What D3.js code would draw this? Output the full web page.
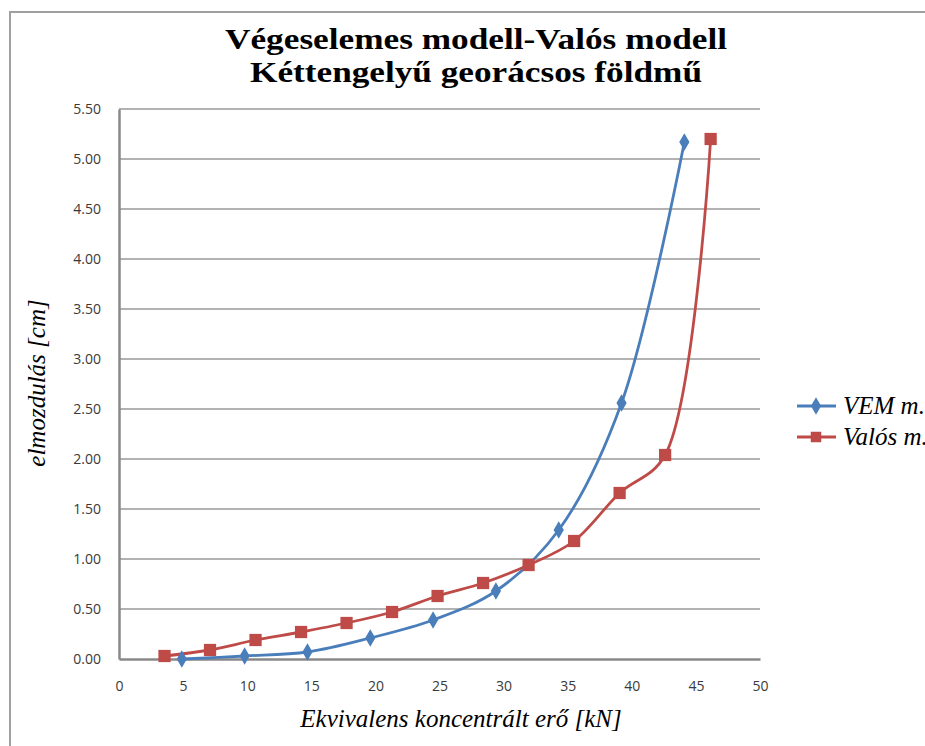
<!DOCTYPE html>
<html><head><meta charset="utf-8">
<script src="https://cdn.jsdelivr.net/npm/d3@7"></script>
<style>html,body{margin:0;padding:0;background:#fff;overflow:hidden}</style>
</head><body>
<script>
const titleLines = ["Végeselemes modell-Valós modell", "Kéttengelyű georácsos földmű"];
const xTitle = "Ekvivalens koncentrált erő [kN]";
const yTitle = "elmozdulás [cm]";
const seriesNames = ["VEM m.", "Valós m."];
const vemX = [4.9, 9.8, 14.7, 19.6, 24.5, 29.4, 34.3, 39.2, 44.1];
const vemY = [0.00, 0.03, 0.07, 0.21, 0.39, 0.68, 1.29, 2.56, 5.17];
const valosX = [3.55, 7.1, 10.65, 14.2, 17.75, 21.3, 24.85, 28.4, 31.95, 35.5, 39.05, 42.6, 46.15];
const valosY = [0.03, 0.09, 0.19, 0.27, 0.36, 0.47, 0.63, 0.76, 0.94, 1.18, 1.66, 2.04, 5.20];
const xTicks = [0, 5, 10, 15, 20, 25, 30, 35, 40, 45, 50];
const yTicks = [0, 0.5, 1, 1.5, 2, 2.5, 3, 3.5, 4, 4.5, 5, 5.5];
const colors = ["#4a7ebb", "#be4b48"];

const W = 925, H = 746;
const svg = d3.select("body").append("svg").attr("width", W).attr("height", H);
svg.append("rect").attr("width", W).attr("height", H).attr("fill", "#fff");

// outer frame
svg.append("path").attr("d", `M10,${H} V12 H${W}`).attr("fill", "none")
  .attr("stroke", "#a0a0a0").attr("stroke-width", 2);

const x = d3.scaleLinear().domain([0, 50]).range([119, 760]);
const y = d3.scaleLinear().domain([0, 5.5]).range([659, 109]);

// gridlines
svg.append("g").selectAll("line").data(yTicks.filter(d => d > 0)).join("line")
  .attr("x1", x(0)).attr("x2", x(50)).attr("y1", d => y(d)).attr("y2", d => y(d))
  .attr("stroke", "#999").attr("stroke-width", 1.5);

// axes
const xAxis = svg.append("g").attr("transform", `translate(0,${y(0)})`)
  .call(d3.axisBottom(x).tickValues(xTicks).tickSize(0).tickPadding(22).tickFormat(d3.format("d")));
const yAxis = svg.append("g").attr("transform", `translate(${x(0)},0)`)
  .call(d3.axisLeft(y).tickValues(yTicks).tickSize(0).tickPadding(18).tickFormat(d3.format(".2f")));
[xAxis, yAxis].forEach(g => {
  g.select(".domain").attr("stroke", "#888").attr("stroke-width", 2.5);
  g.selectAll("text").attr("font-family", "'Open Sans', 'DejaVu Sans', sans-serif")
    .attr("font-size", 14).attr("fill", "#3a3a3a");
});

// titles
const titleW = [502, 452];
titleLines.forEach((t, i) => svg.append("text").attr("text-anchor", "middle")
  .attr("x", 476).attr("y", 49 + i * 33)
  .attr("font-family", "'Liberation Serif', 'Times New Roman', serif")
  .attr("font-weight", "bold").attr("font-size", 30).attr("fill", "#000")
  .attr("textLength", titleW[i]).attr("lengthAdjust", "spacingAndGlyphs").text(t));

svg.append("text").attr("x", 461).attr("y", 727).attr("text-anchor", "middle")
  .attr("font-family", "'Liberation Serif', 'Times New Roman', serif")
  .attr("font-style", "italic").attr("font-size", 25).attr("fill", "#000").text(xTitle);

svg.append("text").attr("transform", "translate(45,383) rotate(-90)").attr("text-anchor", "middle")
  .attr("font-family", "'Liberation Serif', 'Times New Roman', serif")
  .attr("font-style", "italic").attr("font-size", 25).attr("fill", "#000").text(yTitle);

// series
const line = d3.line().x(d => x(d[0])).y(d => y(d[1])).curve(d3.curveCatmullRom.alpha(0.5));
const vem = vemX.map((v, i) => [v, vemY[i]]);
const valos = valosX.map((v, i) => [v, valosY[i]]);

svg.append("path").datum(valos).attr("d", line).attr("fill", "none")
  .attr("stroke", colors[1]).attr("stroke-width", 2.8);
svg.append("path").datum(vem).attr("d", line).attr("fill", "none")
  .attr("stroke", colors[0]).attr("stroke-width", 2.8);

const sq = d3.symbol().type(d3.symbolSquare).size(150);
const dia = d3.symbol().type(d3.symbolDiamond).size(90);
svg.append("g").selectAll("path").data(valos).join("path")
  .attr("transform", d => `translate(${x(d[0])},${y(d[1])})`).attr("d", sq).attr("fill", colors[1]);
svg.append("g").selectAll("path").data(vem).join("path")
  .attr("transform", d => `translate(${x(d[0])},${y(d[1])})`).attr("d", dia).attr("fill", colors[0]);

// legend
const leg = svg.append("g");
seriesNames.forEach((n, i) => {
  const ly = 406 + i * 31;
  leg.append("line").attr("x1", 797).attr("x2", 836).attr("y1", ly).attr("y2", ly)
    .attr("stroke", colors[i]).attr("stroke-width", 2.8);
  leg.append("path").attr("transform", `translate(816,${ly})`)
    .attr("d", i === 0 ? dia : d3.symbol().type(d3.symbolSquare).size(110)).attr("fill", colors[i]);
  leg.append("text").attr("x", 843).attr("y", ly + 8)
    .attr("font-family", "'Liberation Serif', 'Times New Roman', serif")
    .attr("font-style", "italic").attr("font-size", 25).attr("fill", "#000").text(n);
});
</script>
</body></html>
